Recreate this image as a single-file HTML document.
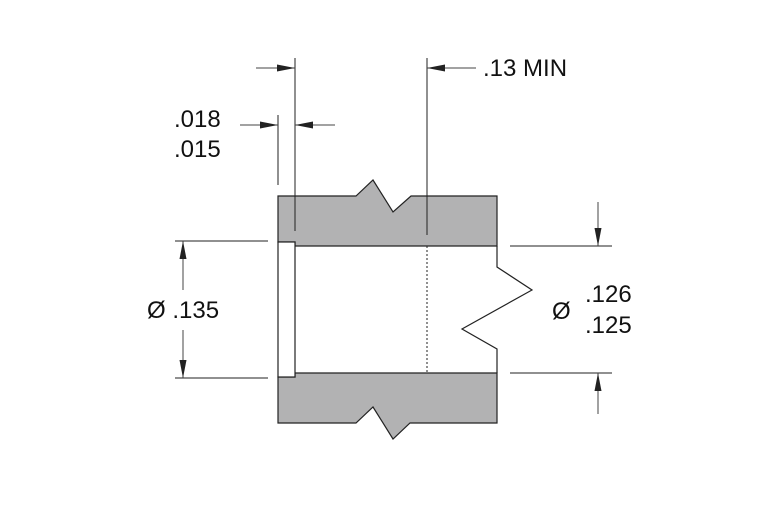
<!DOCTYPE html>
<html><head><style>html,body{margin:0;padding:0;background:#fff}</style></head>
<body>
<svg width="780" height="520" viewBox="0 0 780 520" xmlns="http://www.w3.org/2000/svg" font-family="Liberation Sans, Arial, sans-serif">
<defs>
<marker id="a" viewBox="0 0 18 7" refX="18" refY="3.5" markerWidth="18" markerHeight="7" markerUnits="userSpaceOnUse" orient="auto"><path d="M0,0L18,3.5L0,7z" fill="#222"/></marker>
</defs>
<path d="M278,196 L356,196 L373,180 L393,212 L411,196 L497,196 L497,246 L295,246 L295,242 L278,242 Z" fill="#b2b2b3" stroke="#222" stroke-width="1.2"/>
<path d="M295,373 L497,373 L497,423 L410,423 L393,439 L373,407 L356,423 L278,423 L278,377 L295,377 Z" fill="#b2b2b3" stroke="#222" stroke-width="1.2"/>
<rect x="278" y="242" width="17" height="135" fill="#fff" stroke="#222" stroke-width="1.2"/>
<polyline points="497,246 497,267 532,290 462,329 497,349 497,373" fill="none" stroke="#222" stroke-width="1.2"/>
<line x1="427" y1="246" x2="427" y2="373" stroke="#222" stroke-width="1" stroke-dasharray="2,2"/>
<g stroke="#222" stroke-width="1">
<line x1="295" y1="58" x2="295" y2="231"/>
<line x1="427" y1="58" x2="427" y2="235"/>
<line x1="278" y1="115" x2="278" y2="185"/>
<line x1="175" y1="241" x2="268" y2="241"/>
<line x1="175" y1="378" x2="268" y2="378"/>
<line x1="510" y1="246" x2="612" y2="246"/>
<line x1="510" y1="373" x2="612" y2="373"/>
</g>
<g stroke="#444" stroke-width="1" fill="none">
<line x1="256" y1="68" x2="295" y2="68" marker-end="url(#a)"/>
<line x1="476" y1="68" x2="427" y2="68" marker-end="url(#a)"/>
<line x1="240" y1="125" x2="278" y2="125" marker-end="url(#a)"/>
<line x1="335" y1="125" x2="295" y2="125" marker-end="url(#a)"/>
<line x1="183" y1="290" x2="183" y2="241" marker-end="url(#a)"/>
<line x1="183" y1="330" x2="183" y2="378" marker-end="url(#a)"/>
<line x1="598" y1="202" x2="598" y2="246" marker-end="url(#a)"/>
<line x1="598" y1="414" x2="598" y2="373" marker-end="url(#a)"/>
</g>
<g font-size="24" fill="#111">
<text x="483" y="76">.13 MIN</text>
<text x="174" y="127">.018</text>
<text x="174" y="157">.015</text>
<text x="147" y="318">Ø .135</text>
<text x="552" y="319">Ø</text>
<text x="585" y="302">.126</text>
<text x="585" y="333">.125</text>
</g>
</svg>
</body></html>
